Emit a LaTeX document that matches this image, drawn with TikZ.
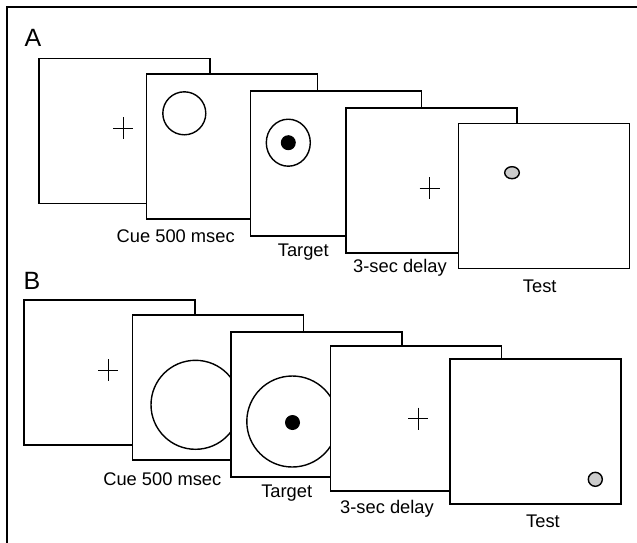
\documentclass[tikz,border=0pt]{standalone}
\usepackage{fontspec}
\setmainfont{Liberation Sans}
\usepackage{tikz}
\usetikzlibrary{positioning}

\begin{document}
\begin{tikzpicture}[x=1pt, y=-1pt,
    screen/.style={draw, fill=white, line width=1.6pt, minimum width=171pt, minimum height=145pt, inner sep=0pt},
    lbl/.style={font=\fontsize{18.3}{20}\selectfont, inner sep=0pt},
    panel/.style={font=\fontsize{25}{27}\selectfont, inner sep=0pt},
    ring/.style={line width=1.4pt},
    fix/.style={line width=1.2pt}]
    \useasboundingbox (0,0) rectangle (637,542);
    \clip (0,0) rectangle (637,542);
    % outer frame (only top and left edges visible)
    \draw[line width=1.8pt] (7,560) -- (7,7) -- (660,7);

    % A: small cue
    \node[panel] (labA) at (33,38) {A};
    \node[screen] (a1) at (124.7,130.8) {};
    \draw[fix] (113.3,128.3) -- (133.3,128.3) (123.3,117.3) -- (123.3,139.3);
    \node[screen] (a2) at (232,146.7) {};
    \draw[ring] (184.3,113.3) circle (21.5);
    \node[screen] (a3) at (335.8,163.3) {};
    \draw[ring] (288.3,142.7) ellipse (22 and 23.5);
    \fill (288.3,142.7) circle (7.5);
    \node[screen] (a4) at (431.7,180.5) {};
    \draw[fix] (419.7,188.3) -- (439.7,188.3) (429.7,177.3) -- (429.7,199.3);
    \node[screen] (a5) at (544,195.8) {};
    \draw[ring, fill=black!20] (512,172.7) ellipse (7.3 and 6);
    \node[lbl] (cueA) at (175.7,236) {Cue 500 msec};
    \node[lbl] (tarA) at (303.3,251.7) {Target};
    \node[lbl] (delA) at (400,267.5) {3-sec delay};
    \node[lbl] (tstA) at (539.7,286) {Test};

    % B: large cue
    \node[panel] (labB) at (32,281) {B};
    \node[screen] (b1) at (109.2,372.5) {};
    \draw[fix] (98.3,370.3) -- (118.3,370.3) (108.3,359.3) -- (108.3,381.3);
    \node[screen] (b2) at (217.8,387.5) {};
    \draw[ring] (195.5,404.8) circle (44.5);
    \node[screen] (b3) at (316.3,404.5) {};
    \draw[ring] (292.3,421.5) circle (45.5);
    \fill (292.5,422.5) circle (7.5);
    \node[screen] (b4) at (416,418.2) {};
    \draw[fix] (408.3,418.7) -- (428.3,418.7) (418.3,407.7) -- (418.3,429.7);
    \node[screen] (b5) at (535.2,431.7) {};
    \draw[ring, fill=black!20] (595.3,479.3) circle (7);
    \node[lbl] (cueB) at (162.3,479.3) {Cue 500 msec};
    \node[lbl] (tarB) at (286.7,492.7) {Target};
    \node[lbl] (delB) at (387,508.3) {3-sec delay};
    \node[lbl] (tstB) at (543,521) {Test};
\end{tikzpicture}
\end{document}
